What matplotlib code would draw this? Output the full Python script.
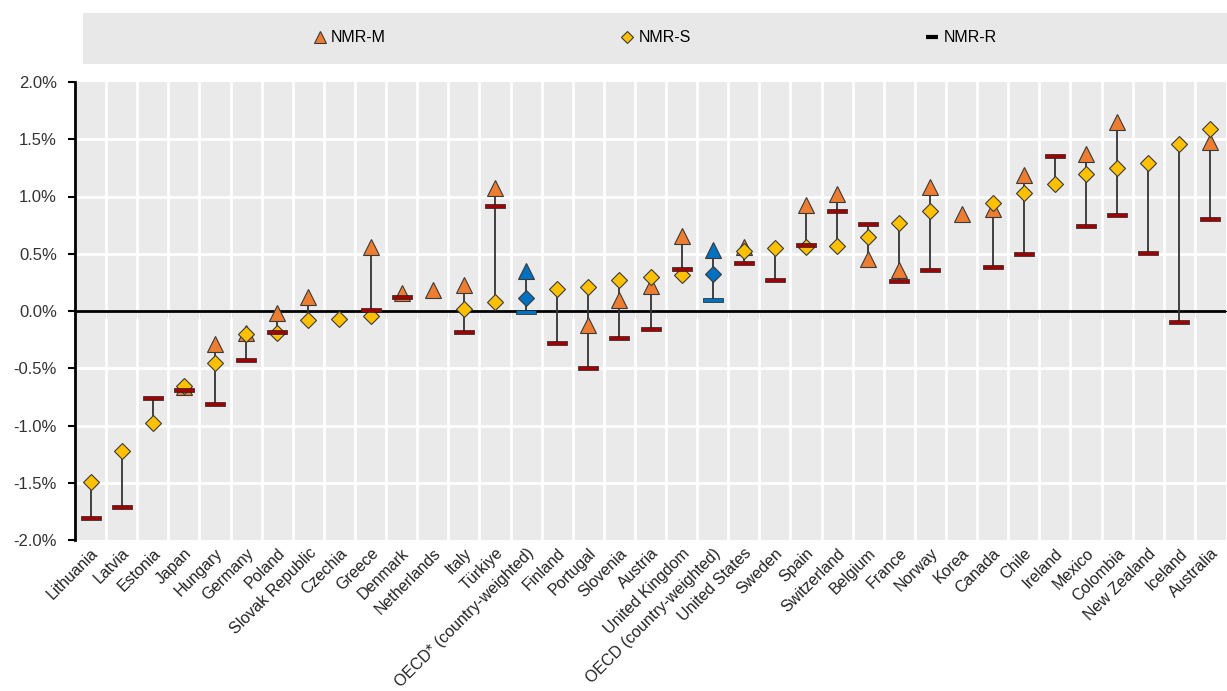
import matplotlib.pyplot as plt
import matplotlib.patches as mpatches
from matplotlib.lines import Line2D
from matplotlib.ticker import FuncFormatter, FixedLocator, NullFormatter
import numpy as np

plt.rcParams['font.family'] = ['Liberation Sans', 'DejaVu Sans']

countries = ['Lithuania', 'Latvia', 'Estonia', 'Japan', 'Hungary', 'Germany', 'Poland',
             'Slovak Republic', 'Czechia', 'Greece', 'Denmark', 'Netherlands', 'Italy',
             'Türkiye', 'OECD* (country-weighted)', 'Finland', 'Portugal', 'Slovenia',
             'Austria', 'United Kingdom', 'OECD (country-weighted)', 'United States',
             'Sweden', 'Spain', 'Switzerland', 'Belgium', 'France', 'Norway', 'Korea',
             'Canada', 'Chile', 'Ireland', 'Mexico', 'Colombia', 'New Zealand',
             'Iceland', 'Australia']

# annual change, % (nan = not available)
nan = np.nan
nmr_m = [nan, nan, nan, -0.66, -0.29, -0.19, -0.02, 0.12, nan, 0.56, 0.16, 0.18, 0.23,
         1.07, 0.35, nan, -0.12, 0.10, 0.22, 0.655, 0.53, 0.56, nan, 0.93, 1.025,
         0.45, 0.36, 1.08, 0.845, 0.89, 1.19, nan, 1.375, 1.655, nan, nan, 1.475]
nmr_s = [-1.49, -1.22, -0.98, -0.655, -0.45, -0.20, -0.19, -0.08, -0.07, -0.04, nan, nan,
         0.02, 0.08, 0.11, 0.19, 0.21, 0.27, 0.30, 0.315, 0.325, 0.525, 0.55, 0.56,
         0.57, 0.65, 0.77, 0.875, nan, 0.94, 1.03, 1.105, 1.195, 1.25, 1.29, 1.455, 1.59]
nmr_r = [-1.81, -1.71, -0.76, -0.69, -0.815, -0.425, -0.18, nan, nan, 0.005, 0.12, nan,
         -0.18, 0.92, -0.01, -0.28, -0.50, -0.235, -0.155, 0.37, 0.10, 0.415, 0.27,
         0.58, 0.875, 0.76, 0.26, 0.36, nan, 0.38, 0.495, 1.355, 0.74, 0.84, 0.505,
         -0.10, 0.805]
oecd = ['OECD* (country-weighted)', 'OECD (country-weighted)']

orange = '#ED7D31'
gold = '#FFC000'
darkred = '#A00000'
blue = '#0070C0'
edge = '#3A3A3A'

# flat bar marker for NMR-R
bar = [(-1, -0.2), (1, -0.2), (1, 0.2), (-1, 0.2), (-1, -0.2)]

fig = plt.figure(figsize=(12.27, 6.91), dpi=100)
ax = fig.add_axes([75 / 1227, 1 - 540 / 691, 1151 / 1227, 458 / 691])
ax.set_facecolor('#EAEAEA')

x = np.arange(len(countries))
m = np.array(nmr_m)
s = np.array(nmr_s)
r = np.array(nmr_r)
allv = np.vstack([m, s, r])
lo = np.nanmin(allv, axis=0)
hi = np.nanmax(allv, axis=0)
ax.vlines(x, lo, hi, color='#333333', lw=1.3, zorder=3)

is_oecd = np.array([c in oecd for c in countries])
mc = np.where(is_oecd, blue, orange)
sc = np.where(is_oecd, blue, gold)
rc = np.where(is_oecd, blue, darkred)

for i in x:
    if not np.isnan(m[i]):
        ax.plot(i, m[i], marker='^', ms=11, mfc=mc[i], mec=edge, mew=0.8, ls='none', zorder=4)
    if not np.isnan(s[i]):
        ax.plot(i, s[i], marker='D', ms=8.5, mfc=sc[i], mec=edge, mew=0.8, ls='none', zorder=5)
    if not np.isnan(r[i]):
        ax.plot(i, r[i], marker=bar, ms=15, mfc=rc[i], mec='#222222', mew=0.5, ls='none', zorder=6)

ax.set_xlim(-0.5, len(countries) - 0.5)
ax.set_ylim(-2, 2)

# grid
for b in np.arange(0.5, len(countries) - 0.5):
    ax.axvline(b, color='white', lw=2, zorder=1)
for yv in np.arange(-1.5, 2.0, 0.5):
    ax.axhline(yv, color='white', lw=2, zorder=1)
ax.axhline(0, color='black', lw=2, zorder=2)

ax.yaxis.set_major_locator(FixedLocator(np.arange(-2, 2.01, 0.5)))
ax.yaxis.set_major_formatter(FuncFormatter(lambda v, p: f'{v:.1f}%'))
ax.tick_params(axis='y', direction='out', length=5, width=1.5, labelsize=12,
               labelcolor='#333333', pad=8)

ax.set_xticks(x)
ax.set_xticklabels(countries, rotation=45, ha='right', rotation_mode='anchor',
                   fontsize=11.5, color='#222222')
ax.tick_params(axis='x', length=0, pad=4)

for side in ['top', 'right', 'bottom']:
    ax.spines[side].set_visible(False)
ax.spines['left'].set_linewidth(2)

# tick marks along the zero line
sec = ax.secondary_xaxis(0.5)
sec.set_xticks(np.arange(0.5, len(countries) - 0.5))
sec.xaxis.set_major_formatter(NullFormatter())
sec.tick_params(direction='in', length=5, width=2)
sec.spines['bottom'].set_visible(False)

# legend band
fig.patches.append(mpatches.Rectangle((83 / 1227, 1 - 64 / 691), 1144 / 1227, 51 / 691,
                                      transform=fig.transFigure, facecolor='#E8E8E8',
                                      edgecolor='none', zorder=0))
handles = [
    Line2D([], [], marker='^', ms=8, mfc=orange, mec=edge, mew=0.8, ls='none'),
    Line2D([], [], marker='D', ms=6.5, mfc=gold, mec=edge, mew=0.8, ls='none'),
    Line2D([], [], marker='_', ms=9, mew=3, color='black', ls='none'),
]
fig.legend(handles, ['NMR-M', 'NMR-S', 'NMR-R'], ncol=3, frameon=False,
           loc='center', bbox_to_anchor=(655 / 1227, 1 - 38 / 691),
           fontsize=11.5, handlelength=0.8, handletextpad=0.3, columnspacing=14.7)

fig.savefig('out.png', dpi=100)
